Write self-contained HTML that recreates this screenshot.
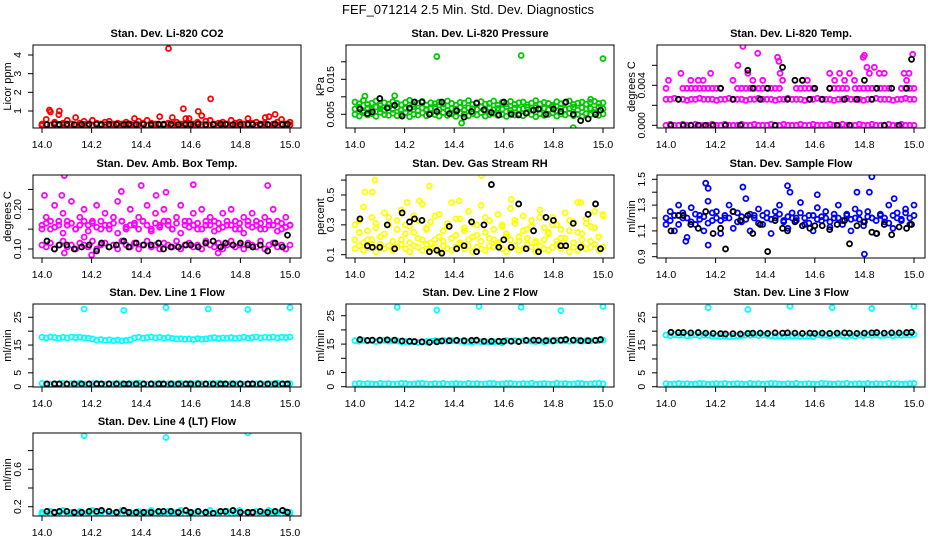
<!DOCTYPE html>
<html><head><meta charset="utf-8">
<style>
html,body{margin:0;padding:0;background:#fff;}
svg{display:block;font-family:"Liberation Sans",sans-serif;}
</style></head>
<body>
<svg id="chart" width="936" height="540" viewBox="0 0 936 540" xmlns="http://www.w3.org/2000/svg">
<rect width="936" height="540" fill="#fff"/>
<text x="468" y="14" font-size="13" text-anchor="middle">FEF_071214  2.5 Min. Std. Dev. Diagnostics</text>
</svg>
<script>
const blackTimes=[14.02,14.05,14.07,14.10,14.13,14.16,14.19,14.22,14.24,14.27,14.30,14.33,14.35,14.38,14.41,14.44,14.47,14.49,14.52,14.55,14.58,14.60,14.63,14.66,14.69,14.72,14.74,14.77,14.80,14.83,14.85,14.88,14.91,14.94,14.97,14.99];
const xTicks=[14.0,14.2,14.4,14.6,14.8,15.0];
const xTickLabels=["14.0","14.2","14.4","14.6","14.8","15.0"];

// CO2
const co2A=[0.3,0.55,0.95,0.4,0.8,0.35,0.5,0.3,0.65,0.35,0.45,0.3,0.5,0.35,0.3,0.4,0.45,0.3,0.35,0.3,0.4,0.3,0.6,0.45,0.35,0.5,0.35,0.3,0.7,0.3,0.35,0.65,0.4,0.3,0.35,0.6,0.3,0.4,0.75,0.45,0.5,0.3,0.35,0.4,0.3,0.5,0.35,0.4,0.3,0.6,0.35,0.4,0.3,0.35,0.7,0.3,0.4,0.55,0.3,0.4];
const co2B=[0.22,0.28,0.25,0.3,0.24,0.27,0.22,0.3,0.26,0.24,0.28,0.22,0.25,0.3,0.24,0.27,0.22,0.26,0.3,0.24,0.28,0.22,0.25,0.27,0.3,0.24,0.22,0.28,0.25,0.26,0.3,0.22,0.27,0.24,0.25,0.28,0.22,0.3,0.26,0.24,0.25,0.28,0.22,0.27,0.3,0.24,0.25,0.22,0.28,0.26,0.3,0.24,0.22,0.27,0.25,0.28,0.24,0.3,0.22,0.26];
const co2OutX=[14.03,14.51,14.57,14.63,14.68,14.94,14.07,14.90,14.58];
const co2OutY=[1.05,4.35,1.12,0.98,1.65,0.82,1.0,0.65,0.6];
const co2Black=[0.27,0.3,0.28,0.3,0.27,0.28,0.3,0.29,0.27,0.3,0.28,0.27,0.3,0.28,0.29,0.27,0.3,0.28,0.3,0.27,0.29,0.28,0.3,0.27,0.28,0.3,0.29,0.27,0.28,0.3,0.27,0.29,0.28,0.3,0.27,0.3];

// Pressure
const presA=[0.0085,0.008,0.009,0.0078,0.0082,0.0088,0.0075,0.0083,0.0079,0.0086,0.0081,0.0077,0.0084,0.009,0.0078,0.0082,0.0087,0.0076,0.0083,0.008,0.0085,0.0079,0.0088,0.0081,0.0076,0.0084,0.0082,0.0089,0.0078,0.0083,0.0086,0.0079,0.0081,0.0088,0.0076,0.0084,0.008,0.0087,0.0078,0.0083,0.0085,0.0077,0.0082,0.0089,0.0079,0.0084,0.0081,0.0076,0.0086,0.008,0.0083,0.0088,0.0078,0.0082,0.0085,0.0079,0.0084,0.0087,0.0081,0.0083];
const presB=[0.0065,0.007,0.006,0.0068,0.0063,0.0071,0.0066,0.0061,0.0069,0.0064,0.007,0.0062,0.0067,0.0065,0.0072,0.006,0.0068,0.0064,0.0066,0.0071,0.0063,0.0069,0.0061,0.0067,0.0065,0.007,0.0062,0.0068,0.0066,0.0064,0.0071,0.006,0.0069,0.0063,0.0067,0.0065,0.0072,0.0061,0.0068,0.0064,0.0066,0.007,0.0062,0.0069,0.0065,0.0067,0.0063,0.0071,0.006,0.0068,0.0064,0.0066,0.007,0.0062,0.0069,0.0065,0.0067,0.0063,0.0071,0.0066];
const presC=[0.005,0.0045,0.0055,0.0048,0.0052,0.0044,0.0056,0.0049,0.0047,0.0053,0.0046,0.0051,0.0055,0.0043,0.005,0.0048,0.0054,0.0046,0.0052,0.0049,0.0045,0.0055,0.0047,0.0051,0.0044,0.0053,0.005,0.0046,0.0052,0.0048,0.0055,0.0045,0.0049,0.0053,0.0047,0.005,0.0044,0.0054,0.0048,0.0051,0.0046,0.0055,0.0049,0.0043,0.0052,0.0047,0.005,0.0054,0.0045,0.0051,0.0048,0.0053,0.0046,0.005,0.0044,0.0052,0.0049,0.0055,0.0047,0.0051];
const presOutX=[14.33,14.67,15.0,14.43,14.88,14.04,14.16,14.10,14.95];
const presOutY=[0.0215,0.0218,0.0209,0.0025,0.0012,0.0102,0.0103,0.0095,0.0093];
const presBlack=[0.0065,0.0052,0.0057,0.0095,0.0068,0.0076,0.0045,0.0068,0.0085,0.0085,0.005,0.0058,0.0085,0.0052,0.006,0.0042,0.0058,0.0082,0.0063,0.0055,0.0048,0.0085,0.005,0.0048,0.0053,0.0062,0.0065,0.005,0.0065,0.0058,0.0085,0.005,0.0032,0.0037,0.0049,0.0062];

// Li-820 Temp
const tempZero=[0,0.0001,0,0,0.0001,0,0,0.0001,0,0,0,0.0001,0,0,0.0001,0,0,0,0.0001,0,0,0.0001,0,0,0,0.0001,0,0,0.0001,0,0,0,0.0001,0,0,0.0001,0,0,0,0.0001,0,0,0.0001,0,0,0,0.0001,0,0,0.0001,0,0,0,0.0001,0,0,0.0001,0,0,0];
const tempMid=[0.0026,0.0026,0.0027,0.0026,0.0026,0.0025,0.0026,0.0026,0.0027,0.0026,0.0026,0.0026,0.0025,0.0026,0.0026,0.0027,0.0026,0.0026,0.0026,0.0025,0.0026,0.0026,0.0027,0.0026,0.0026,0.0026,0.0025,0.0026,0.0026,0.0027,0.0026,0.0026,0.0026,0.0025,0.0026,0.0026,0.0027,0.0026,0.0026,0.0026,0.0025,0.0026,0.0026,0.0027,0.0026,0.0026,0.0026,0.0025,0.0026,0.0026,0.0027,0.0026,0.0026,0.0026,0.0025,0.0026,0.0026,0.0027,0.0026,0.0026];
const tempUpper=[0.0037,null,null,null,0.0037,0.0037,0.0037,0.0037,0.0037,0.0037,0.0037,0.0037,0.0037,0.0037,null,null,null,0.0037,0.0037,0.0037,0.0037,0.0037,0.0037,0.0037,0.0037,0.0037,0.0037,0.0037,null,null,null,0.0037,0.0037,0.0037,0.0037,0.0037,null,null,null,0.0037,0.0037,0.0037,0.0037,0.0037,null,0.0037,0.0037,0.0037,0.0037,0.0037,0.0037,0.0037,0.0037,0.0037,null,null,0.0037,0.0037,0.0037,0.0037];
const tempOutX=[14.01,14.06,14.10,14.13,14.15,14.18,14.27,14.29,14.31,14.33,14.35,14.37,14.39,14.45,14.455,14.46,14.47,14.55,14.57,14.66,14.68,14.70,14.72,14.74,14.76,14.80,14.795,14.81,14.82,14.84,14.86,14.88,14.96,14.97,14.98,14.995];
const tempOutY=[0.0045,0.0052,0.0045,0.0045,0.0045,0.0052,0.0045,0.006,0.0079,0.0052,0.0045,0.0072,0.0045,0.0068,0.0064,0.0052,0.0045,0.0045,0.0045,0.0052,0.0045,0.0052,0.0045,0.0052,0.0045,0.0070,0.0068,0.0058,0.0052,0.0058,0.0052,0.0052,0.0052,0.0045,0.0052,0.0071];
const tempBlack=[0,0.0026,0,0,0,0,0,0.0037,0,0.0026,0,0.0055,0.0037,0.0026,0.0037,0,0.0058,0.0026,0.0045,0.0045,0.0026,0.0037,0.0026,0.0037,0,0.0026,0,0.0026,0.0045,0.0026,0.0037,0,0.0037,0,0.0037,0.0066];

// Amb box temp
const ambHigh=[0.16,0.18,0.15,0.21,0.17,0.19,0.16,0.22,0.15,0.18,0.2,0.16,0.17,0.21,0.15,0.19,0.16,0.18,0.22,0.17,0.15,0.2,0.16,0.18,0.17,0.21,0.15,0.19,0.16,0.2,0.17,0.15,0.18,0.21,0.16,0.17,0.19,0.15,0.2,0.16,0.18,0.17,0.15,0.19,0.16,0.2,0.17,0.15,0.18,0.16,0.19,0.17,0.15,0.18,0.16,0.2,0.17,0.15,0.18,0.16];
const ambMid=[0.15,0.165,0.17,0.155,0.16,0.14,0.17,0.165,0.15,0.16,0.17,0.145,0.165,0.155,0.17,0.16,0.15,0.165,0.14,0.17,0.155,0.16,0.165,0.15,0.17,0.16,0.145,0.165,0.155,0.17,0.16,0.15,0.165,0.14,0.17,0.155,0.16,0.165,0.15,0.17,0.16,0.145,0.165,0.155,0.17,0.16,0.15,0.165,0.14,0.17,0.155,0.16,0.165,0.15,0.17,0.16,0.145,0.165,0.155,0.16];
const ambLow=[0.11,0.105,0.115,0.1,0.11,0.12,0.105,0.11,0.1,0.115,0.11,0.105,0.12,0.1,0.11,0.115,0.105,0.11,0.1,0.12,0.11,0.105,0.115,0.1,0.11,0.12,0.105,0.11,0.1,0.115,0.11,0.105,0.12,0.1,0.11,0.115,0.105,0.11,0.1,0.12,0.11,0.105,0.115,0.1,0.11,0.12,0.105,0.11,0.1,0.115,0.11,0.105,0.12,0.1,0.11,0.115,0.105,0.11,0.1,0.11];
const ambOutX=[14.09,14.40,14.61,14.91,14.01,14.08,14.32,14.46,14.20,14.71,14.09,14.50,14.17];
const ambOutY=[0.285,0.26,0.262,0.26,0.235,0.235,0.245,0.235,0.085,0.09,0.09,0.243,0.13];
const ambBlack=[0.12,0.1,0.11,0.11,0.1,0.105,0.11,0.095,0.115,0.105,0.11,0.12,0.105,0.115,0.11,0.11,0.115,0.1,0.105,0.105,0.11,0.11,0.105,0.115,0.12,0.105,0.115,0.11,0.115,0.11,0.105,0.11,0.095,0.115,0.105,0.135];

// Gas stream RH
const rhLow=[0.14,0.16,0.13,0.15,0.17,0.12,0.15,0.14,0.16,0.13,0.15,0.17,0.14,0.12,0.16,0.15,0.13,0.17,0.14,0.15,0.12,0.16,0.14,0.13,0.15,0.17,0.14,0.16,0.12,0.15,0.14,0.13,0.16,0.15,0.17,0.14,0.12,0.15,0.16,0.13,0.14,0.17,0.15,0.12,0.16,0.14,0.13,0.15,0.17,0.14,0.16,0.12,0.15,0.13,0.16,0.14,0.15,0.17,0.13,0.15];
const rhHigh=[0.3,0.25,0.42,0.2,0.35,0.28,0.22,0.38,0.3,0.19,0.33,0.4,0.24,0.29,0.36,0.21,0.44,0.27,0.32,0.2,0.37,0.26,0.31,0.45,0.23,0.34,0.28,0.39,0.22,0.3,0.43,0.25,0.33,0.2,0.37,0.29,0.24,0.41,0.31,0.22,0.36,0.27,0.33,0.19,0.4,0.28,0.25,0.35,0.3,0.21,0.38,0.26,0.32,0.45,0.24,0.34,0.29,0.39,0.22,0.37];
const rhMix=[0.2,0.33,0.18,0.26,0.2,0.31,0.17,0.24,0.35,0.19,0.27,0.2,0.3,0.18,0.25,0.33,0.2,0.28,0.18,0.36,0.22,0.19,0.29,0.21,0.34,0.18,0.26,0.2,0.31,0.23,0.19,0.35,0.21,0.27,0.18,0.3,0.22,0.2,0.33,0.19,0.26,0.21,0.29,0.18,0.35,0.2,0.24,0.3,0.19,0.27,0.21,0.33,0.18,0.25,0.2,0.31,0.19,0.28,0.22,0.36];
const rhOutX=[14.08,14.51,14.30,14.04,14.07,14.21,14.26,14.63,14.91,14.42];
const rhOutY=[0.6,0.63,0.56,0.52,0.52,0.45,0.46,0.47,0.45,0.46];
const rhBlack=[0.34,0.16,0.15,0.15,0.3,0.14,0.38,0.32,0.34,0.33,0.12,0.13,0.11,0.29,0.14,0.16,0.32,0.12,0.3,0.57,0.15,0.2,0.15,0.44,0.14,0.26,0.12,0.35,0.33,0.16,0.16,0.31,0.15,0.37,0.44,0.14];

// Sample flow
const sfA=[1.15,1.25,1.1,1.3,1.2,1.05,1.28,1.15,1.22,1.1,1.33,1.18,1.25,1.08,1.2,1.3,1.12,1.24,1.17,1.35,1.1,1.22,1.27,1.15,1.2,1.08,1.25,1.3,1.18,1.12,1.24,1.2,1.32,1.15,1.22,1.1,1.28,1.18,1.25,1.13,1.2,1.3,1.15,1.23,1.1,1.27,1.19,1.14,1.25,1.2,1.08,1.22,1.17,1.3,1.12,1.24,1.18,1.27,1.15,1.3];
const sfB=[1.2,1.18,1.22,1.15,1.24,1.2,1.17,1.23,1.19,1.21,1.16,1.24,1.2,1.18,1.22,1.2,1.25,1.17,1.21,1.19,1.23,1.2,1.16,1.22,1.24,1.19,1.2,1.23,1.17,1.21,1.2,1.18,1.24,1.2,1.16,1.22,1.19,1.21,1.2,1.17,1.23,1.2,1.18,1.22,1.19,1.2,1.24,1.17,1.21,1.2,1.18,1.23,1.2,1.16,1.22,1.2,1.19,1.24,1.2,1.22];
const sfOutX=[14.16,14.17,14.31,14.49,14.83,14.82,14.80,14.08,14.17,14.50,14.61,14.77,14.92];
const sfOutY=[1.47,1.43,1.44,1.45,1.52,1.4,0.92,1.02,0.99,1.4,1.38,1.4,1.35];
const sfBlack=[1.1,1.22,1.22,1.15,1.12,1.25,1.08,1.12,0.96,1.25,1.18,1.22,1.08,1.15,0.94,1.18,1.12,1.1,1.17,1.14,1.12,1.14,1.14,1.11,1.15,1.18,1.0,1.14,1.17,1.09,1.08,1.15,1.07,1.13,1.12,1.15];

// Line flows
const l1High=[17.8,17.6,17.9,17.7,17.5,17.8,17.6,17.9,17.7,17.8,17.6,17.5,17.2,16.8,17.0,16.7,16.9,16.6,16.8,16.5,16.7,16.9,17.6,17.8,17.5,17.7,17.9,17.6,17.8,17.5,17.7,17.4,17.2,17.3,17.1,17.2,17.0,17.3,17.1,17.2,17.5,17.7,17.4,17.6,17.5,17.7,17.4,17.6,17.8,17.5,17.7,17.9,17.6,17.8,17.7,17.9,17.6,17.8,17.7,17.9];
const l1Low=[1.2,1.0,0.9,1.1,1.0,1.2,0.9,1.1,1.0,1.3,0.9,1.0,1.1,1.2,1.0,0.9,1.1,1.0,1.2,1.0,0.9,1.1,1.0,1.3,1.0,0.9,1.1,1.0,1.2,0.9,1.0,1.1,1.0,1.2,0.9,1.1,1.0,1.3,1.0,0.9,1.1,1.0,1.2,1.0,0.9,1.1,1.0,1.2,0.9,1.0,1.1,1.0,1.2,0.9,1.1,1.0,1.3,1.0,0.9,1.1];
const l1OutX=[14.17,14.33,14.50,14.67,14.83,15.0];
const l1OutY=[28.0,27.5,28.5,28.0,27.8,28.5];
const l1Black=[1,1,1,1,1,1,1,1,1,1,1,1,1,1,1,1,1,1,1,1,1,1,1,1,1,1,1,1,1,1,1,1,1,1,1,1];

const l2High=[16.2,16.0,16.3,16.1,16.2,15.9,16.1,16.3,16.0,16.2,16.1,15.8,15.9,15.7,15.8,15.6,15.7,15.9,16.0,16.2,16.1,16.3,16.0,16.2,16.1,16.0,15.8,15.9,15.7,16.0,15.8,15.9,15.7,15.8,15.9,15.5,16.3,16.1,16.2,16.0,16.1,16.2,16.0,15.9,16.1,15.8,16.2,16.0,16.3,16.1,16.2,16.0,16.1,16.3,16.0,16.2,16.1,16.3,16.2,16.4];
const l2Low=[1.0,1.2,0.9,1.1,1.0,0.9,1.2,1.0,1.1,0.9,1.0,1.2,1.1,0.9,1.0,1.1,1.2,1.0,0.9,1.1,1.0,1.2,0.9,1.0,1.1,1.0,0.9,1.2,1.0,1.1,0.9,1.0,1.2,1.1,0.9,1.0,1.1,1.2,1.0,0.9,1.1,1.0,1.2,0.9,1.0,1.1,1.0,0.9,1.2,1.0,1.1,0.9,1.0,1.2,1.1,0.9,1.0,1.1,1.2,1.0];
const l2OutX=[14.17,14.33,14.50,14.67,14.83,15.0];
const l2OutY=[28.0,27.0,28.3,28.0,26.8,28.3];
const l2Black=[16.6,16.3,16.4,16.4,16.5,16.4,16.1,16.0,15.9,15.8,15.6,15.8,16.1,16.2,16.3,16.2,16.3,16.4,16.0,16.0,16.0,16.0,16.0,15.9,16.3,16.4,16.3,16.2,16.2,16.4,16.6,16.4,16.2,16.2,16.3,16.6];

const l3High=[18.6,18.4,18.7,18.5,18.6,18.3,18.5,18.7,18.4,18.6,18.5,18.2,18.3,18.1,18.2,18.0,18.1,18.3,18.4,18.6,18.5,18.7,18.4,18.6,18.5,18.4,18.2,18.3,18.1,18.4,18.2,18.3,18.1,18.2,18.3,18.0,18.7,18.5,18.6,18.4,18.5,18.6,18.4,18.3,18.5,18.2,18.6,18.4,18.7,18.5,18.6,18.4,18.5,18.7,18.4,18.6,18.5,18.7,18.6,18.8];
const l3Low=[1.1,0.9,1.0,1.2,1.0,1.1,0.9,1.0,1.2,1.1,0.9,1.0,1.1,1.0,1.2,0.9,1.0,1.1,1.0,0.9,1.2,1.0,1.1,0.9,1.0,1.2,1.1,1.0,0.9,1.1,1.0,1.2,0.9,1.0,1.1,1.0,0.9,1.2,1.1,1.0,0.9,1.1,1.0,1.2,0.9,1.0,1.1,1.0,1.2,0.9,1.1,1.0,0.9,1.2,1.0,1.1,0.9,1.0,1.1,1.2];
const l3OutX=[14.17,14.33,14.50,14.67,14.83,15.0];
const l3OutY=[28.5,27.8,29.0,28.5,28.2,29.0];
const l3Black=[19.6,19.5,19.5,19.4,19.5,19.3,19.2,19.1,19.0,19.1,19.0,19.2,19.3,19.3,19.2,19.4,19.3,19.4,19.3,19.2,19.3,19.2,19.3,19.2,19.3,19.4,19.3,19.2,19.3,19.4,19.5,19.3,19.4,19.4,19.5,19.6];

const l4High=[0.14,0.12,0.15,0.13,0.14,0.16,0.12,0.14,0.13,0.15,0.12,0.14,0.16,0.13,0.14,0.12,0.15,0.13,0.14,0.16,0.12,0.14,0.13,0.15,0.12,0.14,0.16,0.13,0.14,0.12,0.15,0.13,0.14,0.16,0.12,0.14,0.13,0.15,0.12,0.14,0.16,0.13,0.14,0.12,0.15,0.13,0.14,0.16,0.12,0.14,0.13,0.15,0.12,0.14,0.16,0.13,0.14,0.12,0.15,0.14];
const l4Low=[0.12,0.11,0.12,0.13,0.11,0.12,0.12,0.11,0.13,0.12,0.11,0.12,0.12,0.13,0.11,0.12,0.12,0.11,0.13,0.12,0.11,0.12,0.13,0.12,0.11,0.12,0.12,0.13,0.11,0.12,0.12,0.11,0.13,0.12,0.11,0.12,0.13,0.12,0.11,0.12,0.12,0.13,0.11,0.12,0.12,0.11,0.13,0.12,0.11,0.12,0.13,0.12,0.11,0.12,0.12,0.13,0.11,0.12,0.12,0.11];
const l4OutX=[14.17,14.50,14.83];
const l4OutY=[0.96,0.94,0.99];
const l4Black=[0.15,0.14,0.15,0.15,0.14,0.14,0.15,0.15,0.16,0.15,0.14,0.16,0.14,0.14,0.14,0.14,0.15,0.15,0.15,0.14,0.16,0.14,0.15,0.14,0.13,0.15,0.15,0.16,0.14,0.14,0.14,0.15,0.14,0.15,0.16,0.14];

const svg=document.getElementById('chart');
const NS='http://www.w3.org/2000/svg';
const COLX=[33,346,657], ROWY=[45,175,304,433], BW=268, BH=83;
function mk(tag,attrs,parent){const e=document.createElementNS(NS,tag);for(const k in attrs)e.setAttribute(k,attrs[k]);parent.appendChild(e);return e;}
function xScale(col,t){return COLX[col]+9+(t-14)*248;}
function yScaleFn(cal){return v=>cal[1]+(v-cal[0])*(cal[3]-cal[1])/(cal[2]-cal[0]);}
function evenX(col,i,n){return xScale(col,14+i/(n-1));}

function panel(p){
  const g=mk('g',{},svg);
  
  
  const L=COLX[p.col],T=ROWY[p.row],B=T+BH;
  const ys=yScaleFn(p.cal);
  const clip='clip-'+p.name;
  const cp=mk('clipPath',{id:clip},g);mk('rect',{x:L,y:T,width:BW,height:BH},cp);
  const t=mk('text',{x:L+BW/2,y:T-8,'font-size':11,'font-weight':'bold','text-anchor':'middle'},g);
  t.textContent=p.title;
  
  
  const yl=mk('text',{x:0,y:0,'font-size':11,'text-anchor':'middle',transform:`translate(${L-22},${T+BH/2}) rotate(-90)`},g);
  yl.textContent=p.ylab;
  
  
  const marks=mk('g',{'clip-path':`url(#${clip})`,fill:'none','stroke-width':1.8},g);
  
  
  p.bands.forEach(arr=>{arr.forEach((v,i)=>{if(v===null)return;
    const c=mk('circle',{cx:evenX(p.col,i,arr.length),cy:ys(v),r:2.5,stroke:p.color},marks);
    
    });});
  p.outX.forEach((x,i)=>{
    const c=mk('circle',{cx:xScale(p.col,x),cy:ys(p.outY[i]),r:2.5,stroke:p.color},marks);
    
    });
  p.black.forEach((v,i)=>{
    const c=mk('circle',{cx:xScale(p.col,blackTimes[i]),cy:ys(v),r:2.5,stroke:'#000'},marks);
    
    });
  const box=mk('rect',{x:L,y:T,width:BW,height:BH,fill:'none',stroke:'#000','stroke-width':1},g);
  
  
  xTicks.forEach((xv,i)=>{const x=xScale(p.col,xv);
    mk('line',{x1:x,y1:B,x2:x,y2:B+5,stroke:'#000'},g);
    const tl=mk('text',{x:x,y:B+20,'font-size':10.5,'text-anchor':'middle'},g);
    tl.textContent=xTickLabels[i];
    
    });
  p.ticks.forEach((v,i)=>{const y=ys(v);
    mk('line',{x1:L-5,y1:y,x2:L,y2:y,stroke:'#000'},g);
    if(p.labels[i]){const tl=mk('text',{x:0,y:0,'font-size':10.5,'text-anchor':'middle',transform:`translate(${L-12},${y}) rotate(-90)`},g);
      tl.textContent=p.labels[i];
      
      }});
}

panel({name:'panel-co2',col:0,row:0,title:'Stan. Dev. Li-820 CO2',ylab:'Licor ppm',cal:[1,111,4,55],ticks:[1,2,3,4],labels:['1','2','3','4'],color:'#ff0000',bands:[co2B,co2A],outX:co2OutX,outY:co2OutY,black:co2Black});
panel({name:'panel-pressure',col:1,row:0,title:'Stan. Dev. Li-820 Pressure',ylab:'kPa',cal:[0.005,114.3,0.015,79.3],ticks:[0.005,0.01,0.015,0.02],labels:['0.005','','0.015',''],color:'#00c800',bands:[presC,presB,presA],outX:presOutX,outY:presOutY,black:presBlack});
panel({name:'panel-li820-temp',col:2,row:0,title:'Stan. Dev. Li-820 Temp.',ylab:'degrees C',cal:[0,125.3,0.004,85.3],ticks:[0,0.002,0.004,0.006],labels:['0.000','','0.004',''],color:'#ff00ff',bands:[tempZero,tempMid,tempUpper],outX:tempOutX,outY:tempOutY,black:tempBlack});
panel({name:'panel-amb-box-temp',col:0,row:1,title:'Stan. Dev. Amb. Box Temp.',ylab:'degrees C',cal:[0.1,249,0.2,209.3],ticks:[0.1,0.15,0.2,0.25],labels:['0.10','','0.20',''],color:'#ff00ff',bands:[ambLow,ambMid,ambHigh],outX:ambOutX,outY:ambOutY,black:ambBlack});
panel({name:'panel-gas-stream-rh',col:1,row:1,title:'Stan. Dev. Gas Stream RH',ylab:'percent',cal:[0.1,254.7,0.5,195],ticks:[0.1,0.2,0.3,0.4,0.5,0.6],labels:['0.1','','0.3','','0.5',''],color:'#ffff00',bands:[rhLow,rhMix,rhHigh],outX:rhOutX,outY:rhOutY,black:rhBlack});
panel({name:'panel-sample-flow',col:2,row:1,title:'Stan. Dev. Sample Flow',ylab:'ml/min',cal:[0.9,256.7,1.5,179.3],ticks:[0.9,1.0,1.1,1.2,1.3,1.4,1.5],labels:['0.9','','1.1','','1.3','','1.5'],color:'#0000ff',bands:[sfB,sfA],outX:sfOutX,outY:sfOutY,black:sfBlack});
panel({name:'panel-line1-flow',col:0,row:2,title:'Stan. Dev. Line 1 Flow',ylab:'ml/min',cal:[0,386.7,25,317.3],ticks:[0,5,10,15,20,25],labels:['0','5','','15','','25'],color:'#00ffff',bands:[l1Low,l1High],outX:l1OutX,outY:l1OutY,black:l1Black});
panel({name:'panel-line2-flow',col:1,row:2,title:'Stan. Dev. Line 2 Flow',ylab:'ml/min',cal:[0,386.7,25,315.7],ticks:[0,5,10,15,20,25],labels:['0','5','','15','','25'],color:'#00ffff',bands:[l2Low,l2High],outX:l2OutX,outY:l2OutY,black:l2Black});
panel({name:'panel-line3-flow',col:2,row:2,title:'Stan. Dev. Line 3 Flow',ylab:'ml/min',cal:[0,386.7,25,317.3],ticks:[0,5,10,15,20,25],labels:['0','5','','15','','25'],color:'#00ffff',bands:[l3Low,l3High],outX:l3OutX,outY:l3OutY,black:l3Black});
panel({name:'panel-line4-flow',col:0,row:3,title:'Stan. Dev. Line 4 (LT) Flow',ylab:'ml/min',cal:[0.2,506.7,0.6,469.3],ticks:[0.2,0.4,0.6,0.8],labels:['0.2','','0.6',''],color:'#00ffff',bands:[l4Low,l4High],outX:l4OutX,outY:l4OutY,black:l4Black});
</script>
</body></html>
